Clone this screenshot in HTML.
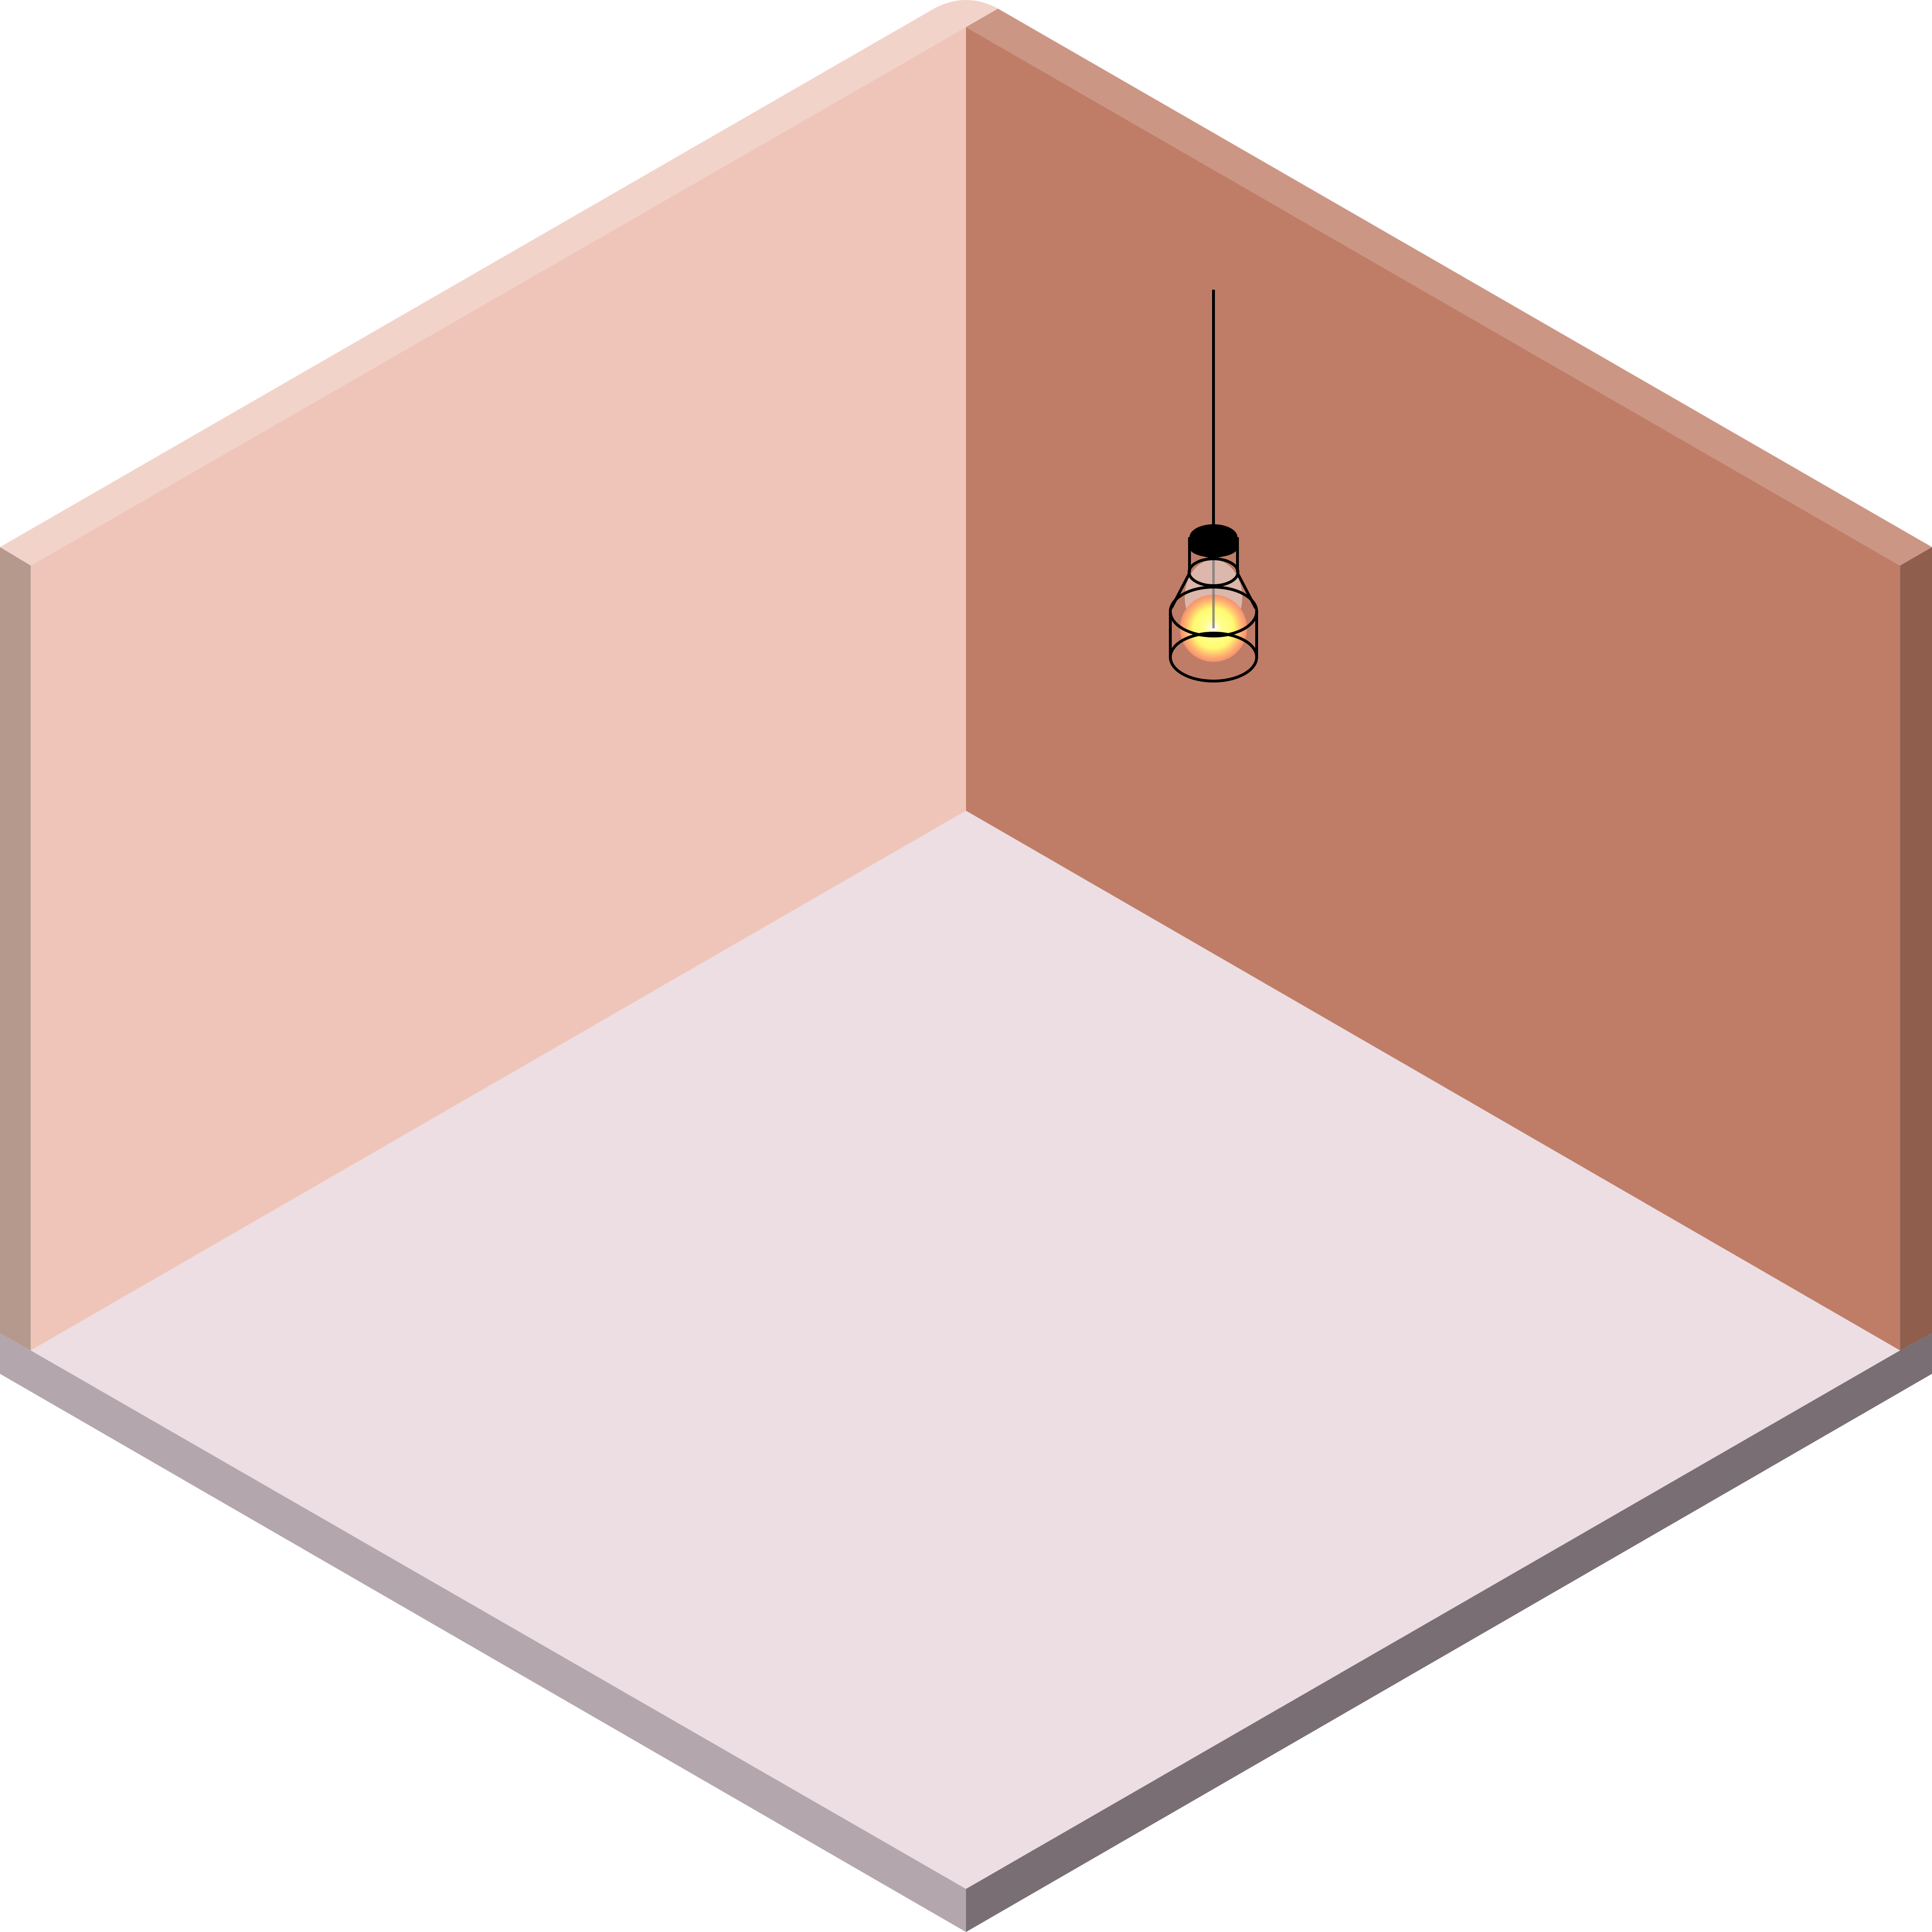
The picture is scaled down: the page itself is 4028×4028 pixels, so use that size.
<!DOCTYPE html>
<html><head><meta charset="utf-8"><style>html,body{margin:0;padding:0;background:#fff}svg{display:block}</style></head>
<body>
<svg width="4028" height="4028" viewBox="0 0 1568 1568" xmlns="http://www.w3.org/2000/svg">
<defs>
<radialGradient id="glow" cx="0.5" cy="0.5" r="0.5">
<stop offset="0" stop-color="#ffffff"/>
<stop offset="0.25" stop-color="#ffff90"/>
<stop offset="0.6" stop-color="#fffa70"/>
<stop offset="0.85" stop-color="#ffb070"/>
<stop offset="1" stop-color="#f59070"/>
</radialGradient>
</defs>
<polygon points="0,1082 25,1096 784,1533 784,1568 0,1115" fill="#b3a6ad"/>
<polygon points="784,1533 1542,1096 1568,1082 1568,1115 784,1568" fill="#796e73"/>
<polygon points="0,444 25,459 25,1096 0,1082" fill="#b5998d"/>
<polygon points="1542,459 1568,444 1568,1082 1542,1096" fill="#8f5e4c"/>
<path d="M0,444 L758,7 Q784,-7 810,7 L784,22 L25,459 Z" fill="#f2d3c9"/>
<polygon points="810,7 1568,444 1542,459 784,22" fill="#cc9684"/>
<polygon points="25,459 784,22 784,658 25,1096" fill="#f0c5b9"/>
<polygon points="784,22 1542,459 1542,1096 784,658" fill="#bf7d67"/>
<polygon points="25,1096 784,658 1542,1096 784,1533" fill="#ecdee3"/>
<g transform="scale(0.389275)">
<line x1="2530" y1="604" x2="2530" y2="1100" stroke="#000" stroke-width="6"/>
<ellipse cx="2530" cy="1245" rx="60" ry="78" fill="#ffffff" fill-opacity="0.45"/>
<circle cx="2530" cy="1310" r="70" fill="url(#glow)"/>
<line x1="2530" y1="1160" x2="2530" y2="1310" stroke="#777" stroke-width="5" stroke-opacity="0.8"/>
<g fill="none" stroke="#000" stroke-width="6">
<line x1="2480" y1="1120" x2="2480" y2="1193"/>
<line x1="2580" y1="1120" x2="2580" y2="1193"/>
<ellipse cx="2530" cy="1193" rx="51" ry="28"/>
<line x1="2480" y1="1195" x2="2442" y2="1268"/>
<line x1="2580" y1="1195" x2="2618" y2="1268"/>
<ellipse cx="2530" cy="1275" rx="90" ry="51"/>
<line x1="2440" y1="1275" x2="2440" y2="1370"/>
<line x1="2620" y1="1275" x2="2620" y2="1370"/>
<ellipse cx="2530" cy="1370" rx="90" ry="50"/>
</g>
<g fill="#000">
<rect x="2480" y="1120" width="100" height="22"/>
<ellipse cx="2530" cy="1120" rx="50" ry="27"/>
<ellipse cx="2530" cy="1142" rx="50" ry="20"/>
<rect x="2503" y="1130" width="53" height="24"/>
<ellipse cx="2529.5" cy="1154" rx="26.5" ry="9"/>
</g>
</g>
</svg>
</body></html>
